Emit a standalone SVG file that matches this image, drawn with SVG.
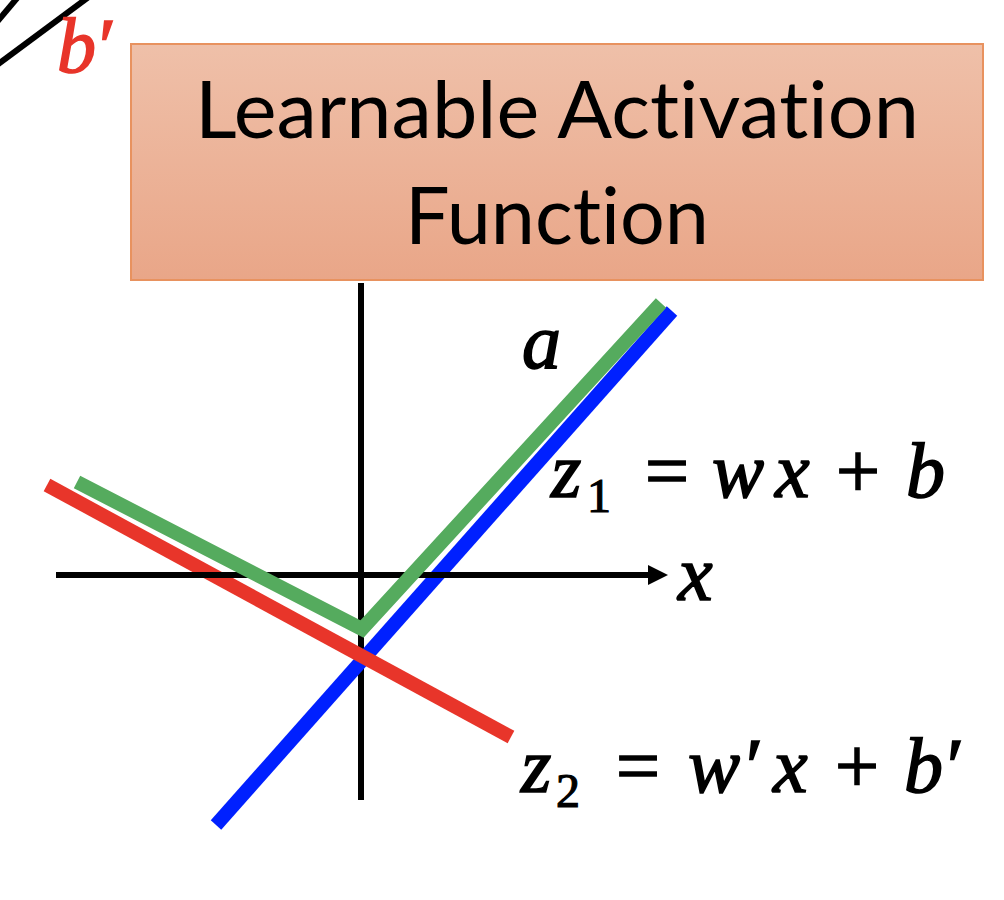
<svg xmlns="http://www.w3.org/2000/svg" width="1004" height="900" viewBox="0 0 1004 900">
<defs>
<linearGradient id="boxGrad" x1="0" y1="0" x2="0" y2="1">
<stop offset="0" stop-color="#EFC0A9"/>
<stop offset="1" stop-color="#E9A688"/>
</linearGradient>
<marker id="arrow" markerWidth="20" markerHeight="20" refX="0" refY="10" orient="auto" markerUnits="userSpaceOnUse">
<path d="M0,0 L20,10 L0,20 Z" fill="#000"/>
</marker>
</defs>
<style>
.math{font-family:"Liberation Serif","Times New Roman",serif;font-style:italic;font-size:78px;fill:#000;stroke:#000;stroke-width:1.6}
.op{font-family:"Liberation Serif","Times New Roman",serif;font-style:normal;font-size:78px;fill:#000;stroke:#000;stroke-width:1.6}
.sub{font-family:"Liberation Serif","Times New Roman",serif;font-style:normal;font-size:48px;fill:#000;stroke:#000;stroke-width:1.2}
.red{fill:#E8352A;stroke:#E8352A}
.title{font-family:Lato,"Open Sans",sans-serif;font-size:80px;fill:#000;font-variant-ligatures:none;font-feature-settings:"liga" 0}
.axis{stroke:#000;stroke-width:6;fill:none}
.curve{stroke-width:14;fill:none;stroke-linecap:butt}
</style>
<rect width="1004" height="900" fill="#fff"/>

<g id="corner">
<line x1="-3" y1="22" x2="18" y2="-3" stroke="#000" stroke-width="6"/>
<line x1="-3" y1="65" x2="90" y2="-4" stroke="#000" stroke-width="6"/>
<text x="57" y="72" class="math red">b</text>
<text x="99" y="72" class="op red">′</text>
</g>

<g id="activation-box">
<rect x="131" y="44" width="852" height="236" fill="url(#boxGrad)" stroke="#E8925F" stroke-width="2"/>
<text x="557" y="138" text-anchor="middle" class="title" textLength="724" lengthAdjust="spacingAndGlyphs">Learnable Activation</text>
<text x="557" y="244" text-anchor="middle" class="title" textLength="304" lengthAdjust="spacingAndGlyphs">Function</text>
</g>

<g id="connectors">
<line id="y-axis" class="axis" x1="361" y1="283" x2="361" y2="800"/>
<line id="blue-z1" class="curve" stroke="#0020FF" x1="216" y1="825" x2="672" y2="311"/>
<line id="red-z2" class="curve" stroke="#E8352A" x1="47" y1="485" x2="511" y2="737"/>
<line id="x-axis" class="axis" x1="56" y1="575" x2="648" y2="575" marker-end="url(#arrow)"/>
<polyline id="green-a" class="curve" stroke="#55AB5E" points="77,482 362,629 661,303" stroke-linejoin="miter"/>
</g>

<g id="label-a">
<text x="522" y="368" class="math">a</text>
</g>
<g id="label-x">
<text x="678" y="600" class="math">x</text>
</g>
<g id="label-z1">
<text x="551" y="497" class="math">z</text>
<text x="587" y="512" class="sub">1</text>
<text x="645" y="497" class="op">=</text>
<text x="712" y="497" class="math">w</text>
<text x="775" y="497" class="math">x</text>
<text x="836" y="497" class="op">+</text>
<text x="906" y="497" class="math">b</text>
</g>
<g id="label-z2">
<text x="521" y="792" class="math">z</text>
<text x="556" y="807" class="sub">2</text>
<text x="616" y="792" class="op">=</text>
<text x="688" y="792" class="math">w</text>
<text x="746" y="792" class="op">′</text>
<text x="773" y="792" class="math">x</text>
<text x="835" y="792" class="op">+</text>
<text x="904" y="792" class="math">b</text>
<text x="947" y="792" class="op">′</text>
</g>
</svg>
